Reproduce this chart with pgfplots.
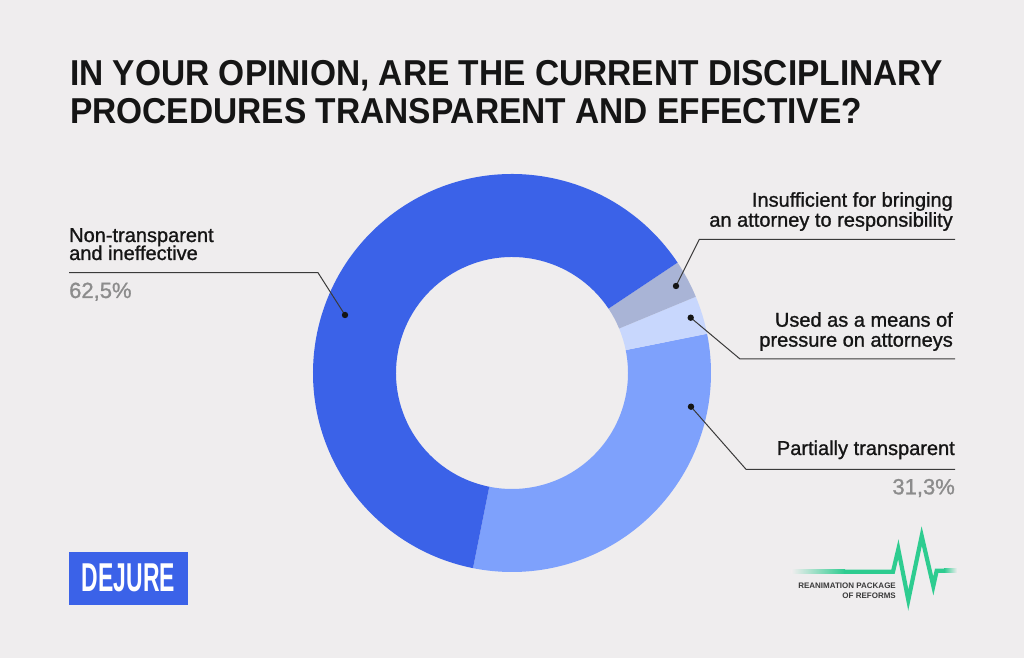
\documentclass[border=0pt]{standalone}
\usepackage{pgfplots}
\pgfplotsset{compat=1.18}
\usepackage{pgfplotstable}
\usepackage{graphicx}
\usepackage{fontspec}
\setmainfont{Liberation Sans}
\newfontfamily\medfont[FakeBold=1.1]{Liberation Sans}

\definecolor{bg}{HTML}{EFEDEE}
\definecolor{cMain}{HTML}{3B62E8}
\definecolor{cPart}{HTML}{7EA1FC}
\definecolor{cUsed}{HTML}{C8D7FD}
\definecolor{cIns}{HTML}{A9B4D6}
\definecolor{ink}{HTML}{151515}
\definecolor{pct}{HTML}{8C8C8C}
\definecolor{leader}{HTML}{3A3A3A}
\definecolor{logogreen}{HTML}{2ECC90}

% shares in %, counter-clockwise from the start angle
\pgfplotstableread{
share color
31.3 cPart
3.1 cUsed
3.1 cIns
62.5 cMain
}\donut

\newcommand\cx{512}
\newcommand\cy{285}
\newcommand\Ro{199}
\newcommand\Ri{116}
\newcommand\slice[3]{%
  \fill[#3] (axis cs:{\cx+\Ro*cos(#1)},{\cy+\Ro*sin(#1)})
    arc[start angle=#1,end angle=#2,radius=\Ro]
    -- (axis cs:{\cx+\Ri*cos(#2)},{\cy+\Ri*sin(#2)})
    arc[start angle=#2,end angle=#1,radius=\Ri] -- cycle;}

\newcommand\lab{\medfont\fontsize{20}{24}\selectfont}
\newcommand\pc{\medfont\fontsize{22}{26}\selectfont}
\newcommand\ttl[1]{\scalebox{0.93}[1]{#1}}

\begin{document}
\begin{tikzpicture}
\begin{axis}[
    x=1pt, y=1pt,
    xmin=0, xmax=1024, ymin=0, ymax=658,
    hide axis, clip=false,
]
\fill[bg] (axis cs:0,0) rectangle (axis cs:1024,658);

% donut slices
\pgfmathsetmacro\acc{-101.3}
\pgfplotstablegetrowsof{\donut}
\pgfmathtruncatemacro\last{\pgfplotsretval-1}
\pgfplotsforeachungrouped \i in {0,...,\last}{%
  \pgfplotstablegetelem{\i}{share}\of\donut \let\v\pgfplotsretval
  \pgfplotstablegetelem{\i}{color}\of\donut \let\c\pgfplotsretval
  \pgfmathsetmacro\b{\acc+3.6*\v}%
  \edef\temp{\noexpand\slice{\acc}{\b}{\c}}%
  \temp
  \global\let\acc\b
}

% title
\node[anchor=base west,inner sep=0,text=ink,font=\fontsize{36}{40}\selectfont\bfseries]
  at (axis cs:70,572) {\ttl{IN YOUR OPINION, ARE THE CURRENT DISCIPLINARY}};
\node[anchor=base west,inner sep=0,text=ink,font=\fontsize{36}{40}\selectfont\bfseries]
  at (axis cs:70,534) {\ttl{PROCEDURES TRANSPARENT AND EFFECTIVE?}};

% leaders
\draw[leader,line width=1pt] (axis cs:69,385.3) -- (axis cs:318,385.3) -- (axis cs:345,343);
\fill[ink] (axis cs:345,343) circle[radius=3.2];
\draw[leader,line width=1pt] (axis cs:955,418.7) -- (axis cs:699.3,418.7) -- (axis cs:676,372);
\fill[ink] (axis cs:676,372) circle[radius=3.2];
\draw[leader,line width=1pt] (axis cs:955,299) -- (axis cs:740,299) -- (axis cs:690.7,340.3);
\fill[ink] (axis cs:690.7,340.3) circle[radius=3.2];
\draw[leader,line width=1pt] (axis cs:955,188.7) -- (axis cs:746,188.7) -- (axis cs:691,251.3);
\fill[ink] (axis cs:691,251.3) circle[radius=3.2];

% labels
\node[anchor=base west,inner sep=0,text=ink,font=\lab] at (axis cs:69,416) {Non-transparent};
\node[anchor=base west,inner sep=0,text=ink,font=\lab] at (axis cs:69,398) {and ineffective};
\node[anchor=base west,inner sep=0,text=pct,font=\pc] at (axis cs:69,360) {62,5\%};

\node[anchor=base east,inner sep=0,text=ink,font=\lab] at (axis cs:953,451.3) {Insufficient for bringing};
\node[anchor=base east,inner sep=0,text=ink,font=\lab] at (axis cs:953,431.3) {an attorney to responsibility};

\node[anchor=base east,inner sep=0,text=ink,font=\lab] at (axis cs:953,331.3) {Used as a means of};
\node[anchor=base east,inner sep=0,text=ink,font=\lab] at (axis cs:953,311.3) {pressure on attorneys};

\node[anchor=base east,inner sep=0,text=ink,font=\lab] at (axis cs:955,203) {Partially transparent};
\node[anchor=base east,inner sep=0,text=pct,font=\pc] at (axis cs:955,163.7) {31,3\%};

% DEJURE logo
\fill[cMain] (axis cs:69,53.3) rectangle (axis cs:188.3,106);
\node[anchor=south west,inner sep=0,text=white] at (axis cs:81.7,66)
  {\resizebox{93pt}{27.7pt}{\bfseries DEJURE}};

% reanimation package logo
\shade[left color=bg,right color=logogreen] (axis cs:791.7,84.2) rectangle (axis cs:845,88.4);
\draw[logogreen,line width=4.2pt,line join=miter]
  (axis cs:844,86.3) -- (axis cs:893,86.3) -- (axis cs:898.3,108.7) -- (axis cs:908.3,58)
  -- (axis cs:921.7,122) -- (axis cs:933.3,72) -- (axis cs:936.7,87.3) -- (axis cs:945,87.3);
\shade[left color=logogreen,right color=bg] (axis cs:944,85.2) rectangle (axis cs:957,89.4);
\node[anchor=base east,inner sep=0,text=leader,font=\fontsize{8}{9}\selectfont\bfseries]
  at (axis cs:896,69.7) {REANIMATION PACKAGE};
\node[anchor=base east,inner sep=0,text=leader,font=\fontsize{8}{9}\selectfont\bfseries]
  at (axis cs:896,59.7) {OF REFORMS};
\end{axis}
\end{tikzpicture}
\end{document}
